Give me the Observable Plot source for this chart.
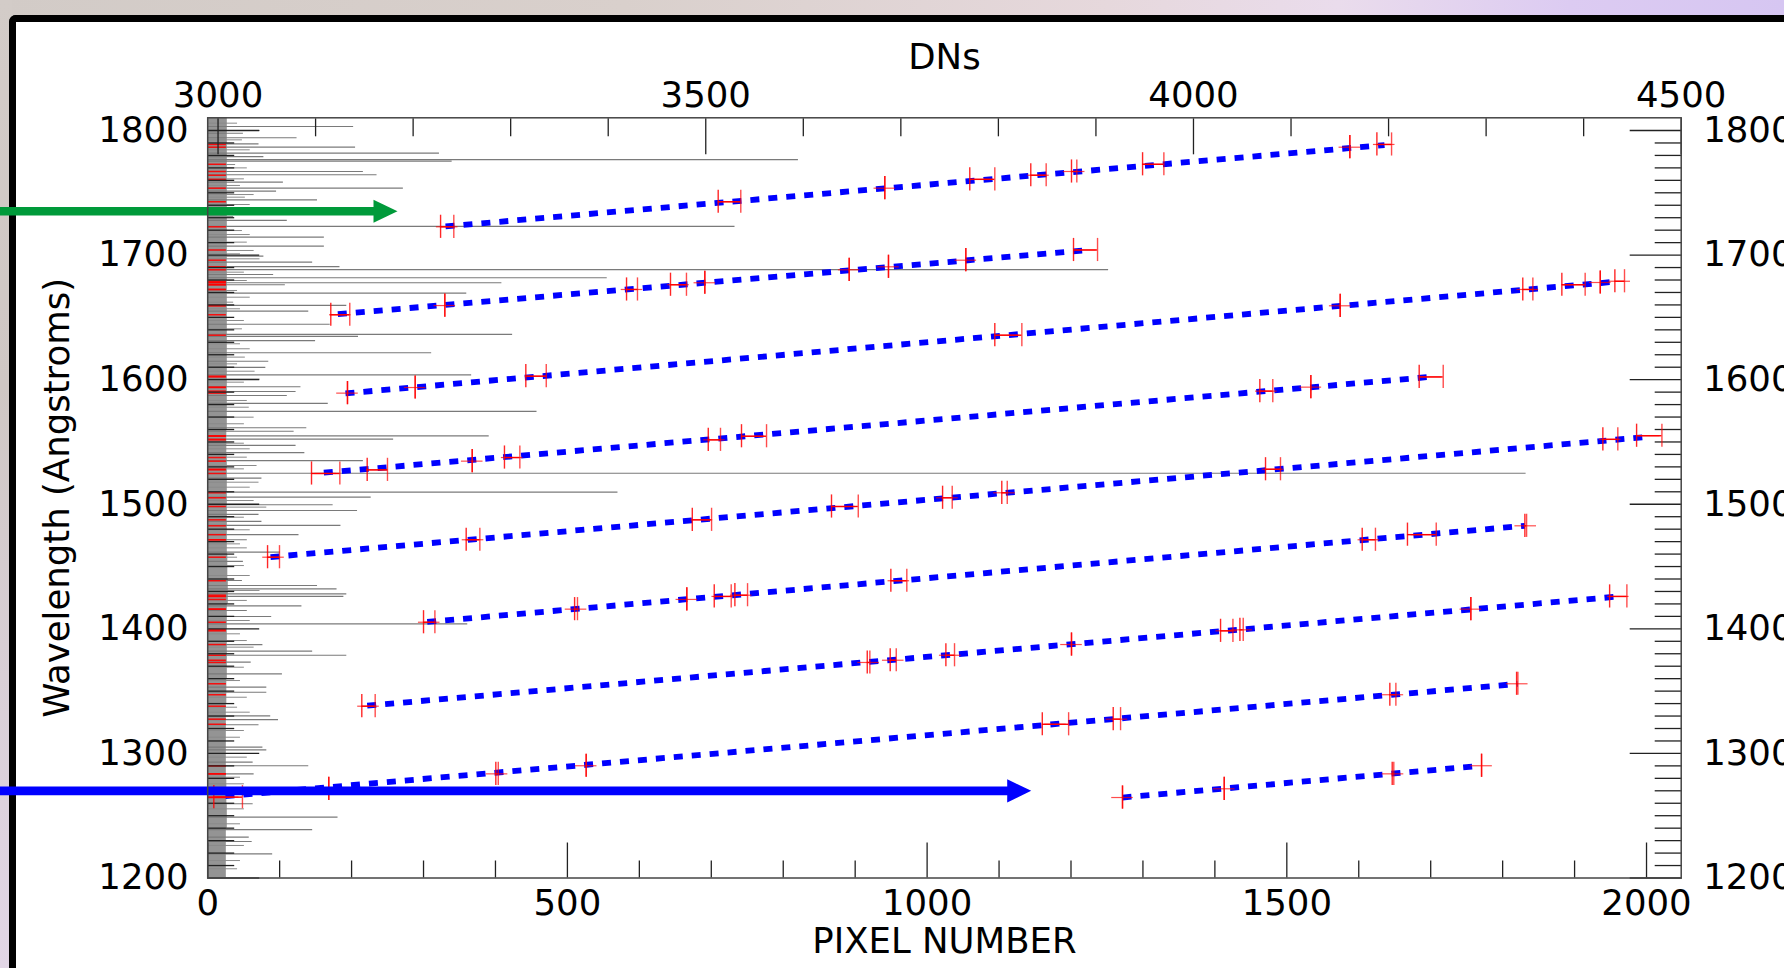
<!DOCTYPE html>
<html><head><meta charset="utf-8">
<script src="https://cdn.jsdelivr.net/npm/d3@7"></script>
<script src="https://cdn.jsdelivr.net/npm/@observablehq/plot@0.6"></script>
<style>
html,body{margin:0;padding:0;width:1784px;height:968px;overflow:hidden;}
body{background:linear-gradient(90deg,#d2cbc7 0%,#d9d0cc 35%,#e6d8dc 62%,#eadcec 75%,#dccbf2 88%,#d6c6f2 100%);}
#leftstrip{position:absolute;left:0;top:0;width:12px;height:968px;background:linear-gradient(180deg,#d3ccc8 0%,#cfc7c4 40%,#d9cfd6 70%,#e2d6e6 100%);}
#panel{position:absolute;left:9px;top:15px;width:1800px;height:1000px;background:#fff;border-left:7px solid #000;border-top:7px solid #000;border-top-left-radius:7px;}
#chart{position:absolute;left:0;top:0;}
</style></head>
<body><div id="leftstrip"></div><div id="panel"></div><div id="chart"></div>
<script>
// ---------- scales ----------
const xMax = 2048.2, dnMin = 2989.4, dnMax = 4500, wlMin = 1200, wlMax = 1810.2;
const dnToPx = d => (d - dnMin) / (dnMax - dnMin) * xMax;
const pxToDn = p => dnMin + p / xMax * (dnMax - dnMin);

// ---------- tick labels ----------
const pixelMajor = [0, 500, 1000, 1500, 2000];
const pixelMinor = d3.range(100, 2000, 100).filter(v => v % 500 !== 0);
const dnMajor = [3000, 3500, 4000, 4500];
const dnMinor = d3.range(3100, 4500, 100).filter(v => v % 500 !== 0);
const wlMajor = [1200, 1300, 1400, 1500, 1600, 1700, 1800];
const wlMinor = d3.range(1210, 1800, 10).filter(v => v % 100 !== 0);

// ---------- spectrum (wavelength, DN) ----------
const specWl = [1803.2,1800.0,1797.8,1794.2,1789.3,1786.6,1781.8,1779.1,1776.7,1775.4,
1767.1,1764.5,1758.5,1753.7,1751.3,1744.4,1727.8,1723.0,1714.4,1707.2,
1699.1,1694.3,1690.8,1688.4,1684.4,1681.8,1677.8,1676.2,1669.5,1659.6,
1655.0,1644.5,1636.3,1634.7,1631.4,1621.6,1614.8,1609.8,1603.9,1600.4,
1594.3,1590.5,1587.3,1580.9,1574.5,1561.4,1558.6,1554.9,1552.2,1547.2,
1541.5,1535.1,1524.9,1520.9,1509.7,1505.7,1499.6,1495.0,1491.8,1486.2,
1483.0,1475.7,1471.5,1461.5,1454.1,1438.8,1434.8,1432.1,1428.1,1426.0,
1418.5,1414.7,1409.9,1404.0,1387.4,1382.1,1378.8,1373.2,1363.9,1353.2,
1349.1,1330.2,1327.2,1323.0,1305.0,1302.9,1293.0,1290.1,1283.6,1259.6,
1248.8,1238.9,1232.8,1229.3,1219.4];
const specDN = [3139,3043,3026,3081,3042,3141,3227,3047,3595,3240,
3149,3163,3067,3190,3060,3102,3071,3530,3109,3109,
3047,3097,3125,3913,3057,3399,3291,3069,3255,3132,
3093,3115,3302,3144,3100,3219,3052,3049,3260,3043,
3085,3080,3071,3113,3327,3091,3078,3278,3180,3080,
3089,3149,4341,3045,3410,3157,3118,3143,3042,3045,
3126,3083,3030,3064,3026,3025,3102,3122,3132,3129,
3086,3030,3055,3256,3046,3097,3132,3034,3066,3050,
3050,3054,3062,3042,3046,3050,3036,3093,3037,3036,
3123,3097,3032,3035,3056];
const weakWl = [1805.9,1792.5,1784.5,1772.7,1770.0,1761.2,1755.9,1748.6,1746.5,1740.6,1734.5,1731.0,1719.7,1716.5,1710.4,1703.7,1701.0,1697.0,1686.3,1679.6,1671.6,1666.2,1662.2,1656.9,1647.5,1640.8,1628.8,1624.8,1618.1,1612.7,1606.8,1598.0,1583.3,1577.9,1569.9,1564.6,1549.0,1544.5,1537.8,1531.1,1528.4,1517.7,1513.7,
1503.0,1497.7,1489.6,1479.5,1468.2,1465.0,1457.5,1450.8,1442.8,1430.8,1422.8,1406.7,1396.0,1390.6,1385.3,1369.2,1358.5,1345.1,1337.1,1333.1,1318.4,1313.0,1297.0,1280.9,1275.6,1267.5,1255.5,1243.5,1226.1,1214.0,1207.4];
const weakDN = [3020,3025,3033,3018,3030,3027,3023,3037,3028,3033,3023,3016,3025,3033,3030,3037,3023,3043,3027,3030,3020,3033,3016,3023,3027,3025,3023,3033,3028,3020,3038,3027,3030,3032,3037,3027,3027,3033,3030,3040,3027,3042,3033,
3037,3050,3027,3033,3023,3030,3020,3027,3033,3043,3030,3033,3023,3030,3037,3027,3023,3030,3020,3033,3027,3023,3030,3023,3027,3033,3027,3023,3027,3023,3020];
const bandWl = [1200,1220,1240,1260,1280,1300,1320,1340,1360,1380,1400,1420,1440,1460,1480,1500,1520,1540,1560,1580,1600,1620,1640,1660,1680,1700,1720,1740,1760,1780,1800,1810.2];
const bandDN = [3009,3008,3009,3010,3008,3009,3008,3009,3009,3010,3009,3010,3011,3009,3010,3009,3010,3009,3009,3010,3009,3010,3009,3010,3009,3010,3009,3010,3009,3010,3009,3010];

// ---------- spectral orders: fitted line ends ----------
const lineStartPx = [330.6, 180.9, 191.5, 161.4, 87.3, 305.1, 221.7, 24.7, 1271.6];
const lineStartWl = [1723.0, 1652.6, 1589.0, 1525.3, 1457.6, 1405.5, 1338.3, 1265.7, 1264.6];
const lineEndPx   = [1635.8, 1222.5, 1952.3, 1695.2, 2001.0, 1830.9, 1954.6, 1820.7, 1765.0];
const lineEndWl   = [1788.3, 1704.0, 1678.4, 1602.0, 1554.0, 1482.7, 1425.6, 1355.8, 1289.8];

// ---------- measured lines per order: pixel, wavelength, pixel error ----------
const order1Px = [332.9, 725.3, 941.2, 1076.7, 1154.8, 1204.4, 1314.3, 1587.6, 1635.4];
const order1Wl = [1722.7, 1742.8, 1753.7, 1760.8, 1764.1, 1767.1, 1772.9, 1786.6, 1788.8];
const order1Err = [9.2, 15.7, 0, 17.4, 10.7, 3.7, 14.8, 0, 10.2];
const order2Px = [184.3, 329.6, 589.8, 654.4, 691.0, 891.7, 946.3, 1053.8, 1220.2];
const order2Wl = [1652.1, 1659.5, 1672.4, 1676.2, 1677.8, 1688.2, 1690.6, 1695.9, 1704.1];
const order2Err = [13.2, 0, 7.6, 11.1, 0, 0, 0, 0, 16.7];
const order3Px = [194.3, 288.4, 456.4, 1112.9, 1574.2, 1835.0, 1898.5, 1935.7, 1962.7];
const order3Wl = [1589.2, 1593.7, 1602.8, 1635.7, 1659.3, 1672.4, 1676.2, 1678.0, 1679.0];
const order3Err = [0, 0, 14.2, 18.8, 0, 7.0, 16.2, 0, 6.7];
const order4Px = [164.0, 235.8, 367.7, 423.2, 704.3, 759.4, 1471.5, 1533.4, 1700.7];
const order4Wl = [1524.7, 1527.6, 1534.6, 1537.5, 1551.7, 1554.6, 1590.8, 1594.0, 1602.2];
const order4Err = [19.7, 14.1, 0, 10.7, 8.5, 17.4, 9.0, 0, 16.7];
const order5Px = [91.5, 368.8, 687.0, 885.7, 1028.2, 1107.6, 1480.8, 1949.7, 2003.8];
const order5Wl = [1457.5, 1471.5, 1487.5, 1498.2, 1505.2, 1509.2, 1528.1, 1552.1, 1555.0];
const order5Err = [8.3, 9.5, 13.4, 18.6, 6.7, 3.8, 10.4, 10.4, 17.6];
const order6Px = [307.9, 512.0, 666.0, 715.9, 741.6, 960.7, 1614.0, 1687.7, 1832.1];
const order6Wl = [1405.3, 1415.8, 1423.6, 1426.0, 1427.0, 1438.6, 1471.5, 1475.6, 1482.7];
const order6Err = [7.9, 2.0, 0, 11.8, 8.8, 11.1, 9.2, 20.0, 1.2];
const order7Px = [223.5, 918.6, 952.9, 1032.1, 1200.7, 1416.5, 1437.1, 1755.8, 1960.7];
const order7Wl = [1337.9, 1373.0, 1374.8, 1378.8, 1387.4, 1398.4, 1399.2, 1415.8, 1426.0];
const order7Err = [9.3, 1.8, 4.2, 6.0, 0, 8.6, 2.3, 0, 12.0];
const order8Px = [28.4, 168.3, 402.2, 526.1, 1178.4, 1263.8, 1647.4, 1820.3];
const order8Wl = [1264.9, 1271.6, 1283.6, 1290.1, 1323.4, 1327.5, 1347.1, 1355.9];
const order8Err = [19.9, 0, 1.7, 0, 18.3, 5.1, 4.2, 0.9];
const order9Px = [1271.6, 1413.0, 1647.6, 1770.7];
const order9Wl = [1264.6, 1271.6, 1283.6, 1290.1];
const order9Err = [0, 0, 1.1, 0];

// ---------- arrows ----------
const arrowWl = [1735.2, 1270.0];
const arrowTipPx = [263.8, 1144.7];
const arrowColor = ["#009a3a", "#0000ff"];

// ---------- build tables ----------
const spec = specWl.map((w, i) => ({w, d: specDN[i]}));
const weak = weakWl.map((w, i) => ({w, d: weakDN[i]}));
const band = bandWl.map((w, i) => ({w, d: bandDN[i]}));
const orders = lineStartPx.map((p, i) => ({x1: p, y1: lineStartWl[i], x2: lineEndPx[i], y2: lineEndWl[i]}));
const ordPx = [order1Px, order2Px, order3Px, order4Px, order5Px, order6Px, order7Px, order8Px, order9Px];
const ordWl = [order1Wl, order2Wl, order3Wl, order4Wl, order5Wl, order6Wl, order7Wl, order8Wl, order9Wl];
const ordErr = [order1Err, order2Err, order3Err, order4Err, order5Err, order6Err, order7Err, order8Err, order9Err];
const pts = ordPx.flatMap((arr, k) => arr.map((p, i) => ({p, w: ordWl[k][i], e: ordErr[k][i]})));
const arrows = arrowWl.map((w, i) => ({w, tip: arrowTipPx[i], c: arrowColor[i]}));

const capHalf = 9.3;   // Angstrom (vertical cap half length)
const hatHalf = 15;    // pixel units (horizontal hat half length)
const red = "#ff0000";
const tickCol = "#222";
const headSymbol = {draw(ctx) { ctx.moveTo(0, 0); ctx.lineTo(-24, -11.6); ctx.lineTo(-24, 11.6); ctx.closePath(); }};
const fmt = d => `${d}`;

const chart = Plot.plot({
  width: 1784, height: 968,
  marginLeft: 207.2, marginRight: 103.3, marginTop: 117.3, marginBottom: 90.5,
  style: {background: "transparent", fontFamily: "'DejaVu Sans', sans-serif", fontSize: "35.5px", color: "#000"},
  x: {domain: [0, xMax]},
  y: {domain: [wlMin, wlMax]},
  marks: [
    Plot.areaX(band, {y: "w", x1: 0, x2: d => dnToPx(d.d), fill: "#949494", curve: "step"}),
    Plot.ruleY(weak, {y: "w", x1: 0, x2: d => dnToPx(d.d), stroke: "#8a8a8a", strokeWidth: 1}),
    Plot.ruleY(spec, {y: "w", x1: 0, x2: d => dnToPx(d.d), stroke: "#7a7a7a", strokeWidth: 1.2}),
    Plot.ruleY(pts, {y: "w", x1: 0, x2: 26, stroke: red, strokeWidth: 1.5, strokeOpacity: 0.9}),
    // inward ticks
    Plot.axisX({anchor: "bottom", ticks: pixelMinor, tickSize: -17, tickFormat: () => "", label: null, stroke: tickCol, strokeWidth: 1.3}),
    Plot.axisX({anchor: "bottom", ticks: pixelMajor, tickSize: -35, tickFormat: () => "", label: null, stroke: tickCol, strokeWidth: 1.3}),
    Plot.axisX({anchor: "top", ticks: dnMinor.map(dnToPx), tickSize: -18, tickFormat: () => "", label: null, stroke: tickCol, strokeWidth: 1.3}),
    Plot.axisX({anchor: "top", ticks: dnMajor.map(dnToPx), tickSize: -36, tickFormat: () => "", label: null, stroke: tickCol, strokeWidth: 1.3}),
    Plot.axisY({anchor: "left", ticks: wlMinor, tickSize: -27, tickFormat: () => "", label: null, stroke: tickCol, strokeWidth: 1.3}),
    Plot.axisY({anchor: "left", ticks: wlMajor, tickSize: -52, tickFormat: () => "", label: null, stroke: tickCol, strokeWidth: 1.3}),
    Plot.axisY({anchor: "right", ticks: wlMinor, tickSize: -27, tickFormat: () => "", label: null, stroke: tickCol, strokeWidth: 1.3}),
    Plot.axisY({anchor: "right", ticks: wlMajor, tickSize: -52, tickFormat: () => "", label: null, stroke: tickCol, strokeWidth: 1.3}),
    // labels
    Plot.axisX({anchor: "bottom", ticks: pixelMajor, tickSize: 0, tickPadding: 12, tickFormat: fmt, label: "PIXEL NUMBER", labelAnchor: "center", labelOffset: 75, labelArrow: "none"}),
    Plot.axisX({anchor: "top", ticks: dnMajor.map(dnToPx), tickSize: 0, tickPadding: 11, tickFormat: v => `${Math.round(pxToDn(v))}`, label: "DNs", labelAnchor: "center", labelOffset: 74, labelArrow: "none"}),
    Plot.axisY({anchor: "left", ticks: wlMajor, tickSize: 0, tickPadding: 19, tickFormat: fmt, label: "Wavelength (Angstroms)", labelAnchor: "center", labelOffset: 164, labelArrow: "none"}),
    Plot.axisY({anchor: "right", ticks: wlMajor, tickSize: 0, tickPadding: 22, tickFormat: fmt, label: null}),
    // order fits
    Plot.link(orders, {x1: "x1", y1: "y1", x2: "x2", y2: "y2", stroke: "#0000ff", strokeWidth: 5.8, strokeDasharray: "9,9"}),
    // error bars
    Plot.ruleY(pts, {y: "w", x1: d => d.p - d.e, x2: d => d.p + d.e, stroke: red, strokeWidth: 1.4}),
    Plot.ruleY(pts, {y: "w", x1: d => d.p - hatHalf, x2: d => d.p + hatHalf, stroke: red, strokeWidth: 1.2, strokeOpacity: 0.7}),
    Plot.ruleX(pts, {x: d => d.p - d.e, y1: d => d.w - capHalf, y2: d => d.w + capHalf, stroke: red, strokeWidth: 1.4, strokeOpacity: 0.85}),
    Plot.ruleX(pts, {x: d => d.p + d.e, y1: d => d.w - capHalf, y2: d => d.w + capHalf, stroke: red, strokeWidth: 1.4, strokeOpacity: 0.7}),
    // arrows
    Plot.ruleY(arrows.slice(0, 1), {y: "w", x1: -300, x2: d => d.tip - 30, stroke: arrowColor[0], strokeWidth: 8.4}),
    Plot.dot(arrows.slice(0, 1), {x: "tip", y: "w", symbol: headSymbol, fill: arrowColor[0], stroke: "none"}),
    Plot.ruleY(arrows.slice(1), {y: "w", x1: -300, x2: d => d.tip - 30, stroke: arrowColor[1], strokeWidth: 8.7}),
    Plot.dot(arrows.slice(1), {x: "tip", y: "w", symbol: headSymbol, fill: arrowColor[1], stroke: "none"}),
    Plot.frame({stroke: "#444", strokeWidth: 1.5})
  ]
});
document.getElementById("chart").appendChild(chart);
</script></body></html>
